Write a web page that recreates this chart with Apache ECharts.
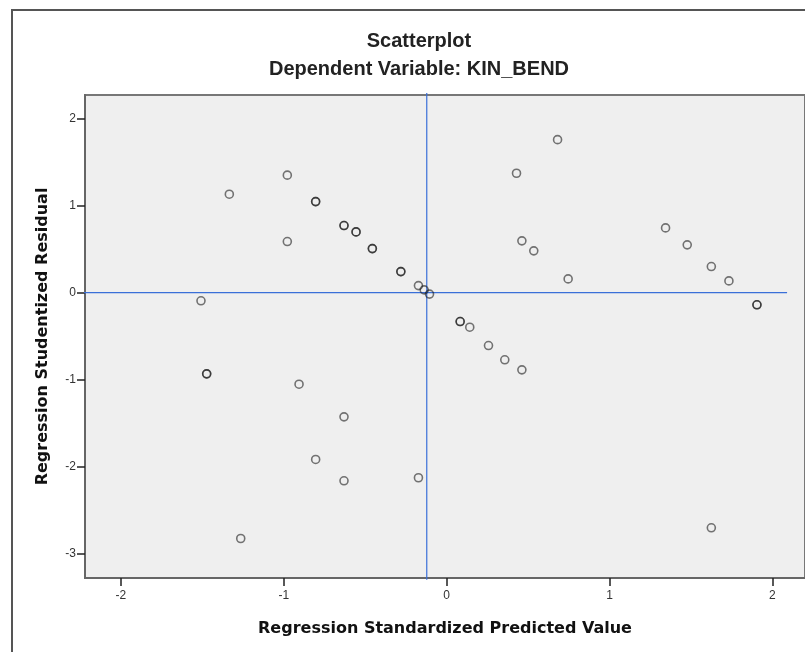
<!DOCTYPE html>
<html>
<head>
<meta charset="utf-8">
<style>
  html, body { margin: 0; padding: 0; background: #ffffff; }
  #chart { width: 805px; height: 652px; }
</style>
<script src="https://cdn.jsdelivr.net/npm/echarts@6/dist/echarts.min.js"></script>
</head>
<body>
<div id="chart"></div>
<script>
// Regression diagnostics: standardized predicted value vs. studentized residual
const predicted = [
  -1.334, -0.978, -0.804, -0.804, -0.978, -0.630, -0.630, -0.556, -0.556,
  -0.456, -0.456, -0.281, -0.281, -0.173, -0.138, -0.105, -1.508,
  0.083, 0.083, 0.142, 0.257, 0.357, 0.462,
  0.681, 0.429, 0.462, 0.535, 0.746,
  1.344, 1.477, 1.625, 1.733, 1.905, 1.905,
  -1.473, -1.473, -0.906, -0.630, -0.804, -0.630, -0.173, -1.264, 1.625
];
const residual = [
  1.130, 1.349, 1.045, 1.045, 0.586, 0.770, 0.770, 0.697, 0.697,
  0.505, 0.505, 0.241, 0.241, 0.080, 0.031, -0.018, -0.095,
  -0.333, -0.333, -0.398, -0.609, -0.773, -0.888,
  1.757, 1.371, 0.594, 0.479, 0.157,
  0.743, 0.548, 0.299, 0.134, -0.141, -0.141,
  -0.934, -0.934, -1.053, -1.428, -1.918, -2.163, -2.128, -2.826, -2.703
];

// Axis tick values
const xTicks = [-2, -1, 0, 1, 2];
const yTicks = [-3, -2, -1, 0, 1, 2];

// Reference lines (mean of predicted value, zero residual) and their extents
const refX = -0.122;
const refY = 0;
const refXSpan = [-3.30, 2.294];
const refYSpan = [-2.356, 2.09];

const points = predicted.map((x, i) => [x, residual[i]]);

const refLineStyle = { color: '#3a6fd8', width: 1.2, type: 'solid' };

const chart = echarts.init(document.getElementById('chart'));
chart.setOption({
  backgroundColor: '#ffffff',
  animation: false,
  title: [
    {
      text: 'Scatterplot',
      left: 414, top: 26, textAlign: 'center',
      textStyle: { fontFamily: 'Liberation Sans', fontSize: 20, fontWeight: 'bold', color: '#222' }
    },
    {
      text: 'Dependent Variable: KIN_BEND',
      left: 414, top: 54, textAlign: 'center',
      textStyle: { fontFamily: 'Liberation Sans', fontSize: 20, fontWeight: 'bold', color: '#222' }
    }
  ],
  graphic: [
    {
      type: 'rect', silent: true, z: 0,
      shape: { x: 12, y: 10, width: 900, height: 900 },
      style: { fill: 'none', stroke: '#555', lineWidth: 2 }
    }
  ],
  grid: {
    left: 85, right: 0, top: 95, bottom: 74,
    show: true, backgroundColor: '#efefef',
    borderColor: '#777', borderWidth: 2
  },
  xAxis: {
    type: 'value', min: -2.22, max: 2.2,
    name: 'Regression Standardized Predicted Value',
    nameLocation: 'middle', nameGap: 43,
    nameTextStyle: { fontFamily: 'DejaVu Sans', fontWeight: 'bold', fontSize: 16, color: '#111' },
    axisLine: { show: true, onZero: false, lineStyle: { color: '#666', width: 2 } },
    axisTick: { show: true, customValues: xTicks, length: 8, lineStyle: { color: '#222', width: 1.5 } },
    axisLabel: { customValues: xTicks, margin: 12, fontFamily: 'Liberation Sans', fontSize: 12, color: '#333' },
    splitLine: { show: false }
  },
  yAxis: {
    type: 'value', min: -3.28, max: 2.27,
    name: 'Regression Studentized Residual',
    nameLocation: 'middle', nameGap: 34,
    nameTextStyle: { fontFamily: 'DejaVu Sans', fontWeight: 'bold', fontSize: 16, color: '#111' },
    axisLine: { show: true, onZero: false, lineStyle: { color: '#666', width: 2 } },
    axisTick: { show: true, customValues: yTicks, length: 8, lineStyle: { color: '#222', width: 1.5 } },
    axisLabel: { customValues: yTicks, margin: 9, fontFamily: 'Liberation Sans', fontSize: 12, color: '#333' },
    splitLine: { show: false }
  },
  series: [
    {
      // vertical reference line at the mean predicted value
      type: 'line',
      data: [[refX, refXSpan[0]], [refX, refXSpan[1]]],
      showSymbol: false, clip: false, silent: true, z: 1,
      lineStyle: refLineStyle
    },
    {
      // horizontal reference line at zero residual
      type: 'line',
      data: [[refYSpan[0], refY], [refYSpan[1], refY]],
      showSymbol: false, clip: false, silent: true, z: 1,
      lineStyle: refLineStyle
    },
    {
      type: 'scatter',
      data: points,
      symbol: 'circle',
      symbolSize: 8,
      clip: false,
      z: 3,
      itemStyle: { color: 'rgba(0,0,0,0)', borderColor: 'rgba(20,20,20,0.72)', borderWidth: 1.6 }
    }
  ]
});
</script>
</body>
</html>
